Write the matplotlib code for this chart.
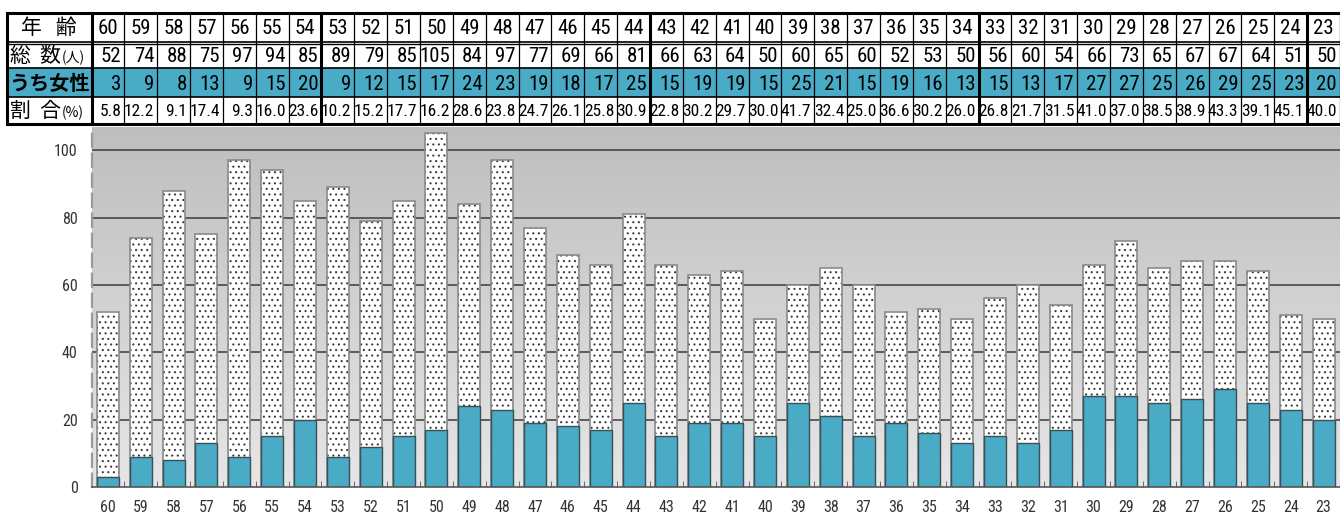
import numpy as np
import matplotlib
matplotlib.use("Agg")
import matplotlib.pyplot as plt
from matplotlib import font_manager as fm
from matplotlib.colors import LinearSegmentedColormap

# --------------------------------------------------------------
# 年齢別の総数とうち女性の人数
# --------------------------------------------------------------
ages = [60, 59, 58, 57, 56, 55, 54, 53, 52, 51, 50, 49, 48, 47, 46, 45, 44, 43, 42,
        41, 40, 39, 38, 37, 36, 35, 34, 33, 32, 31, 30, 29, 28, 27, 26, 25, 24, 23]
totals = [52, 74, 88, 75, 97, 94, 85, 89, 79, 85, 105, 84, 97, 77, 69, 66, 81, 66, 63,
          64, 50, 60, 65, 60, 52, 53, 50, 56, 60, 54, 66, 73, 65, 67, 67, 64, 51, 50]
women = [3, 9, 8, 13, 9, 15, 20, 9, 12, 15, 17, 24, 23, 19, 18, 17, 25, 15, 19,
         19, 15, 25, 21, 15, 19, 16, 13, 15, 13, 17, 27, 27, 25, 26, 29, 25, 23, 20]
ratios = [5.8, 12.2, 9.1, 17.4, 9.3, 16.0, 23.6, 10.2, 15.2, 17.7, 16.2, 28.6, 23.8,
          24.7, 26.1, 25.8, 30.9, 22.8, 30.2, 29.7, 30.0, 41.7, 32.4, 25.0, 36.6, 30.2,
          26.0, 26.8, 21.7, 31.5, 41.0, 37.0, 38.5, 38.9, 43.3, 39.1, 45.1, 40.0]
y_ticks = [0, 20, 40, 60, 80, 100]

TEAL = "#4aabc6"
JP = ["Noto Sans CJK JP", "DejaVu Sans"]


def find_narrow():
    # 細身のフォントを探す。無ければ Liberation Sans
    cands = []
    for f in fm.fontManager.ttflist:
        nm = f.name + " " + str(f.fname)
        if f.style != "normal" or f.weight not in (400, "normal", "regular"):
            continue
        if "Narrow" in nm or "Condensed" in nm or f.stretch in ("condensed", "semi-condensed", "extra-condensed"):
            if "Bold" in f.fname or "Italic" in f.fname or "Light" in f.fname \
                    or "Medium" in f.fname or "Thin" in f.fname or "Black" in f.fname:
                continue
            cands.append(f)
    order = ["Liberation Sans Narrow", "Roboto Condensed", "Open Sans Condensed", "Noto Sans"]
    for key in order:
        for f in cands:
            if key in f.name or key.replace(" ", "") in f.fname:
                return fm.FontProperties(fname=f.fname), True
    if cands:
        return fm.FontProperties(fname=cands[0].fname), True
    return fm.FontProperties(family="Liberation Sans"), False


NARROW, is_narrow = find_narrow()
k = 1.0 if is_narrow else 0.85   # 細身フォントが無いときは少し小さく


def nf(size):
    p = NARROW.copy()
    p.set_size(size * k)
    return p


W, H = 1340, 514
fig = plt.figure(figsize=(W / 100, H / 100), dpi=100)

# ==============================================================
# グラフ本体
# ==============================================================
left_px, top_px, bottom_px = 91.5, 127, 487
ax = fig.add_axes([left_px / W, (H - bottom_px) / H,
                   (W - left_px) / W, (bottom_px - top_px) / H])
n = len(ages)
x = np.arange(n)
ytop = 106.9
ax.set_xlim(-0.5, n - 0.5)
ax.set_ylim(0, ytop)

# 背景のグラデーション
cmap = LinearSegmentedColormap.from_list("bg", ["#e6e6e6", "#bebebe"])
ax.imshow(np.linspace(0, 1, 256).reshape(-1, 1), extent=[-0.5, n - 0.5, 0, ytop],
          aspect="auto", origin="lower", cmap=cmap, zorder=0)

for yv in y_ticks[1:]:
    ax.axhline(yv, color="#3a3a3a", lw=1.1, zorder=1)

plt.rcParams["hatch.linewidth"] = 0.75
ax.bar(x, totals, width=0.67, color="white", edgecolor="#3a3a3a", hatch="...",
       linewidth=0, zorder=2)
ax.bar(x, totals, width=0.67, fill=False, edgecolor="#8a8a8a", linewidth=1.2, zorder=3)
ax.bar(x, women, width=0.67, color=TEAL, edgecolor="#3c4f55", linewidth=1.0, zorder=4)

for s in ["top", "right"]:
    ax.spines[s].set_visible(False)
ax.spines["left"].set_linestyle((0, (6, 3)))
ax.spines["left"].set_color("#9a9a9a")
ax.spines["left"].set_linewidth(1.6)
ax.spines["bottom"].set_color("#555555")
ax.spines["bottom"].set_linewidth(1.2)
ax.spines["bottom"].set_zorder(5)

ax.set_xticks(x)
ax.set_xticklabels([str(a) for a in ages], fontproperties=nf(11.5), color="#333333")
ax.set_xticks(np.arange(n + 1) - 0.5, minor=True)
ax.tick_params(axis="x", which="major", length=0, pad=9)
ax.tick_params(axis="x", which="minor", direction="in", length=4, color="#555555")
ax.set_yticks(y_ticks)
ax.set_yticklabels([str(v) for v in y_ticks], fontproperties=nf(11.5), color="#333333")
ax.tick_params(axis="y", length=0, pad=10)

# ==============================================================
# 上部の表
# ==============================================================
tb = fig.add_axes([0, 0, 1, 1], zorder=10)
tb.set_xlim(0, W)
tb.set_ylim(H, 0)
tb.axis("off")

cw = (W - left_px) / n
tab_left = 7
rows = [13, 41.5, 68, 96.5, 124]   # 行の境界
edges = [left_px + i * cw for i in range(n + 1)]

tb.fill_between([left_px, W], rows[2], rows[3], color=TEAL, lw=0)
tb.fill_between([tab_left, left_px], rows[2], rows[3], color=TEAL, lw=0)

for i, yv in enumerate(rows):
    lw = 2.2 if i in (0, 4) else 1.2
    tb.plot([tab_left, W], [yv, yv], color="black", lw=lw, solid_capstyle="butt")
tb.plot([tab_left, W], [rows[1] + 2.5, rows[1] + 2.5], color="black", lw=1.0)

tb.plot([tab_left, tab_left], [rows[0], rows[4]], color="black", lw=2.2)
tb.plot([left_px, left_px], [rows[0], rows[4]], color="black", lw=2.2)
for i, e in enumerate(edges[1:], start=1):
    thick = ages[i - 1] % 10 == 4 if i < n else False
    tb.plot([e, e], [rows[0], rows[4]], color="black", lw=2.2 if thick else 0.9)

# 見出し列
hx = (tab_left + left_px) / 2
tb.text(hx, (rows[0] + rows[1]) / 2 + 1, "年   齢", family=JP, fontsize=15,
        ha="center", va="center")
tb.text(10, (rows[1] + rows[2]) / 2 + 1, "総  数", family=JP, fontsize=15,
        ha="left", va="center")
tb.text(62, (rows[1] + rows[2]) / 2 + 3, "(人)", family=JP, fontsize=10,
        ha="left", va="center")
tb.text(hx, (rows[2] + rows[3]) / 2 + 1, "うち女性", family=JP, fontsize=14.5,
        ha="center", va="center", weight="bold")
tb.text(10, (rows[3] + rows[4]) / 2 + 1, "割  合", family=JP, fontsize=15,
        ha="left", va="center")
tb.text(62, (rows[3] + rows[4]) / 2 + 3, "(%)", family=JP, fontsize=10,
        ha="left", va="center")

for i in range(n):
    cx = (edges[i] + edges[i + 1]) / 2
    rx = edges[i + 1] - 3
    tb.text(cx, (rows[0] + rows[1]) / 2 + 1, str(ages[i]), fontproperties=nf(15),
            ha="center", va="center")
    tb.text(rx, (rows[1] + rows[2]) / 2 + 2, str(totals[i]), fontproperties=nf(15),
            ha="right", va="center")
    tb.text(rx, (rows[2] + rows[3]) / 2 + 2, str(women[i]), fontproperties=nf(15),
            ha="right", va="center")
    tb.text(rx, (rows[3] + rows[4]) / 2 + 1, f"{ratios[i]:.1f}", fontproperties=nf(12.5),
            ha="right", va="center")

fig.savefig("out.png", dpi=100)
